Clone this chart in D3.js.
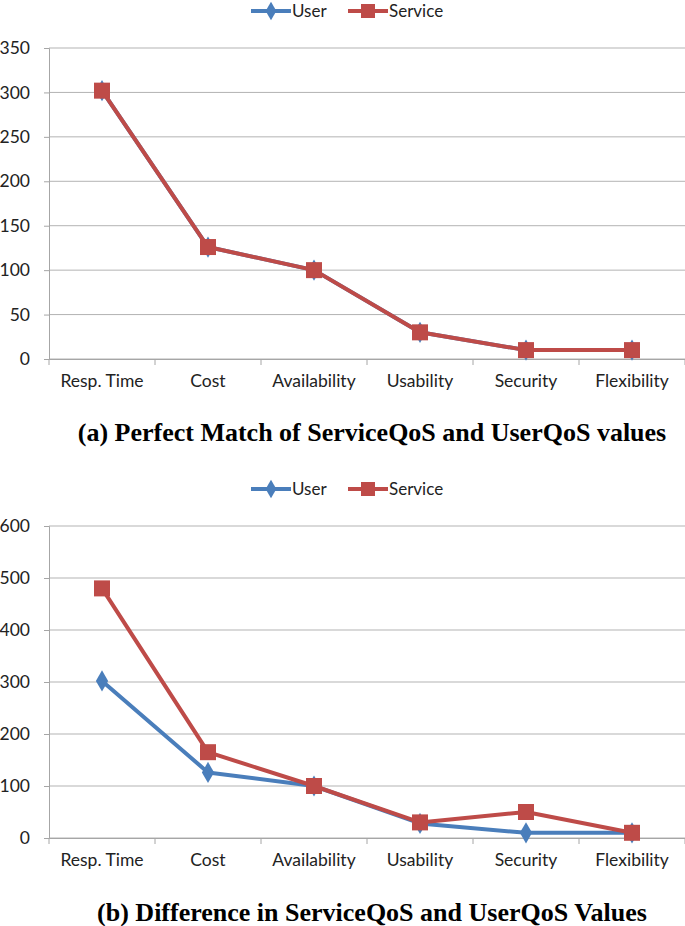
<!DOCTYPE html>
<html>
<head>
<meta charset="utf-8">
<script src="https://cdn.jsdelivr.net/npm/d3@7"></script>
<style>
  body { margin: 0; background: #fff; }
  svg { display: block; }
  .tick text { font-family: Lato, "Open Sans", sans-serif; font-size: 17.5px; fill: #222; }
  .legend text { font-family: Lato, "Open Sans", sans-serif; font-size: 17px; fill: #222; }
  .caption { font-family: "Liberation Serif", "Times New Roman", serif; font-weight: bold; font-size: 26px; fill: #000; }
</style>
</head>
<body>
<svg id="chart" width="685" height="926"></svg>
<script>
var categories = ["Resp. Time", "Cost", "Availability", "Usability", "Security", "Flexibility"];

// (a) perfect match
var userA = [302, 126, 100, 30, 10, 10];
var serviceA = [302, 126, 100, 30, 10, 10];
var ticksA = [0, 50, 100, 150, 200, 250, 300, 350];

// (b) difference
var userB = [302, 126, 100, 28, 10, 10];
var serviceB = [480, 165, 100, 30, 50, 10];
var ticksB = [0, 100, 200, 300, 400, 500, 600];

var blue = "#4a7ebb";
var red = "#be4b48";

var svg = d3.select("#chart");

function drawPanel(opts) {
  var g = svg.append("g");

  var x = d3.scaleBand()
    .domain(categories)
    .range([49, 685]);

  var y = d3.scaleLinear()
    .domain([0, opts.max])
    .range([opts.bottom, opts.top]);

  // gridlines
  g.selectAll(".grid")
    .data(opts.ticks)
    .enter()
    .append("line")
    .attr("x1", 49)
    .attr("x2", 685)
    .attr("y1", function(d) { return y(d); })
    .attr("y2", function(d) { return y(d); })
    .attr("stroke", "#b3b3b3")
    .attr("stroke-width", 1);

  // y axis
  var yAxis = g.append("g")
    .attr("transform", "translate(49,0)")
    .call(d3.axisLeft(y).tickValues(opts.ticks).tickSize(5).tickPadding(14));
  yAxis.select(".domain").attr("stroke", "#a6a6a6");
  yAxis.selectAll(".tick line").attr("stroke", "#a6a6a6").attr("x2", -5);

  // x axis (ticks at band boundaries)
  var xAxis = g.append("g")
    .attr("transform", "translate(0," + opts.bottom + ")")
    .call(d3.axisBottom(x).tickSize(0).tickPadding(16));
  xAxis.select(".domain").attr("stroke", "#a6a6a6");
  xAxis.selectAll(".bound")
    .data(d3.range(categories.length + 1))
    .enter()
    .append("line")
    .attr("x1", function(i) { return 49 + i * x.step(); })
    .attr("x2", function(i) { return 49 + i * x.step(); })
    .attr("y1", 0)
    .attr("y2", 6)
    .attr("stroke", "#a6a6a6");

  var cx = function(d, i) { return x(categories[i]) + x.bandwidth() / 2; };
  var line = d3.line()
    .x(cx)
    .y(function(d) { return y(d); });

  // user series
  g.append("path")
    .datum(opts.user)
    .attr("d", line)
    .attr("fill", "none")
    .attr("stroke", blue)
    .attr("stroke-width", 4)
    .attr("stroke-linejoin", "round");
  g.selectAll(".umark")
    .data(opts.user)
    .enter()
    .append("path")
    .attr("d", d3.symbol().type(d3.symbolDiamond).size(130))
    .attr("transform", function(d, i) { return "translate(" + cx(d, i) + "," + y(d) + ")"; })
    .attr("fill", blue);

  // service series
  g.append("path")
    .datum(opts.service)
    .attr("d", line)
    .attr("fill", "none")
    .attr("stroke", red)
    .attr("stroke-width", 4)
    .attr("stroke-linejoin", "round");
  g.selectAll(".smark")
    .data(opts.service)
    .enter()
    .append("rect")
    .attr("x", function(d, i) { return cx(d, i) - 8; })
    .attr("y", function(d) { return y(d) - 8; })
    .attr("width", 16)
    .attr("height", 16)
    .attr("fill", red);

  // legend
  var lg = g.append("g").attr("class", "legend").attr("transform", "translate(0," + opts.legendY + ")");
  lg.append("line").attr("x1", 251).attr("x2", 291).attr("y1", 0).attr("y2", 0)
    .attr("stroke", blue).attr("stroke-width", 4);
  lg.append("path").attr("d", d3.symbol().type(d3.symbolDiamond).size(100))
    .attr("transform", "translate(271,0)").attr("fill", blue);
  lg.append("text").attr("x", 292).attr("y", 0).attr("dy", "0.35em").text("User");
  lg.append("line").attr("x1", 348).attr("x2", 388).attr("y1", 0).attr("y2", 0)
    .attr("stroke", red).attr("stroke-width", 4);
  lg.append("rect").attr("x", 361).attr("y", -7).attr("width", 14).attr("height", 14).attr("fill", red);
  lg.append("text").attr("x", 389).attr("y", 0).attr("dy", "0.35em").text("Service");

  // caption
  g.append("text")
    .attr("class", "caption")
    .attr("x", 372)
    .attr("y", opts.captionY)
    .attr("text-anchor", "middle")
    .text(opts.caption);
}

drawPanel({
  user: userA, service: serviceA, ticks: ticksA, max: 350,
  top: 48, bottom: 359, legendY: 11, captionY: 441,
  caption: "(a)  Perfect Match of ServiceQoS and UserQoS values"
});

drawPanel({
  user: userB, service: serviceB, ticks: ticksB, max: 600,
  top: 526, bottom: 838, legendY: 489, captionY: 921,
  caption: "(b)  Difference in ServiceQoS and UserQoS Values"
});
</script>
</body>
</html>
